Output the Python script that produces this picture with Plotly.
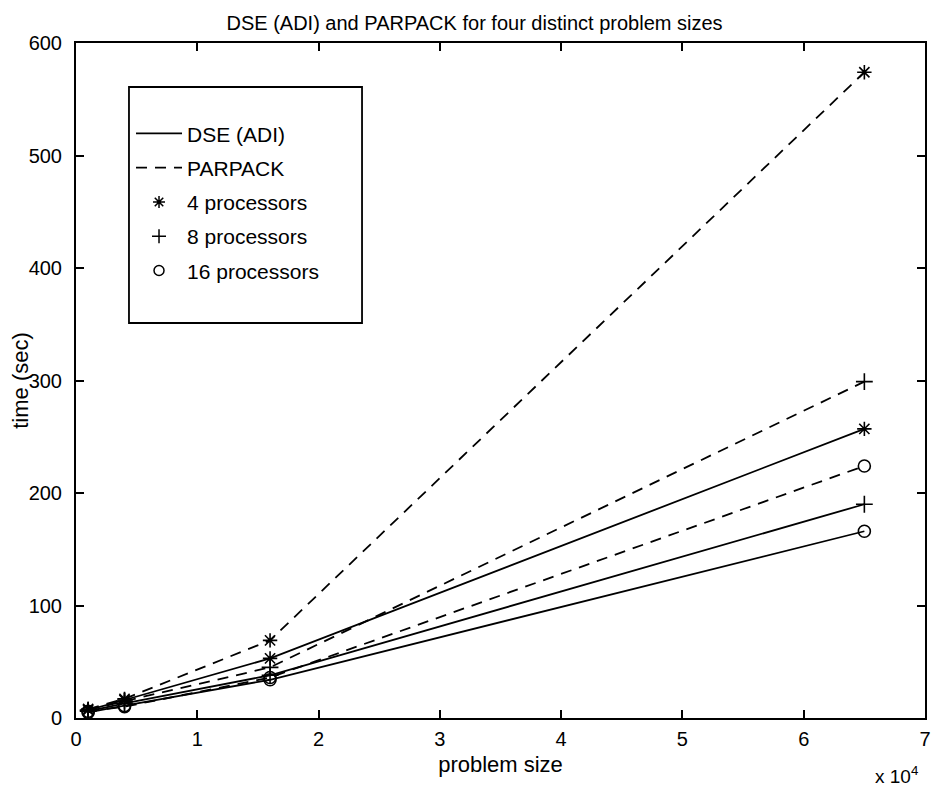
import plotly.graph_objects as go

problem_size = [1000, 4000, 16000, 65000]
dse_4 = [7, 16, 53, 257]
dse_8 = [6, 13, 38, 190]
dse_16 = [5, 11, 34, 166]
parpack_4 = [8, 17, 69, 574]
parpack_8 = [7, 15, 45, 299]
parpack_16 = [6, 10, 36, 224]

x_ticks = [0, 10000, 20000, 30000, 40000, 50000, 60000, 70000]
x_tick_labels = ["0", "1", "2", "3", "4", "5", "6", "7"]
y_ticks = [0, 100, 200, 300, 400, 500, 600]

FONT = "Liberation Sans, Arial, Helvetica, sans-serif"
DASH = "11px,8px"
MSIZE = 12
LW = 1.8

fig = go.Figure()

series = [
    (dse_4, "solid", "asterisk-open"),
    (dse_8, "solid", "cross-thin-open"),
    (dse_16, "solid", "circle-open"),
    (parpack_4, DASH, "asterisk-open"),
    (parpack_8, DASH, "cross-thin-open"),
    (parpack_16, DASH, "circle-open"),
]
for vals, dash, sym in series:
    fig.add_trace(go.Scatter(
        x=problem_size, y=vals, mode="lines+markers",
        line=dict(color="black", width=LW, dash=dash),
        marker=dict(symbol=sym, size=MSIZE, color="black",
                    line=dict(color="black", width=1.6)),
        showlegend=False, hoverinfo="skip"))

legend_items = [
    ("DSE (ADI)", "lines", "solid", "circle"),
    ("PARPACK", "lines", DASH, "circle"),
    ("4 processors", "markers", "solid", "asterisk-open"),
    ("8 processors", "markers", "solid", "cross-thin-open"),
    ("16 processors", "markers", "solid", "circle-open"),
]
for i, (name, mode, dash, sym) in enumerate(legend_items):
    fig.add_trace(go.Scatter(
        x=[None], y=[None], mode=mode, name=name, legendgroup=f"g{i}",
        line=dict(color="black", width=LW, dash=dash),
        marker=dict(symbol=sym, size=10, color="black",
                    line=dict(color="black", width=1.5))))

axis_common = dict(
    showline=True, linecolor="black", linewidth=2, mirror="ticks",
    ticks="inside", ticklen=8, tickcolor="black", tickwidth=1.8,
    showgrid=False, zeroline=False, automargin=False,
    tickfont=dict(family=FONT, size=20, color="black"),
)

fig.update_layout(
    width=933, height=783,
    margin=dict(l=68, r=16, t=35, b=73),
    paper_bgcolor="white", plot_bgcolor="white",
    font=dict(family=FONT, size=20, color="black"),
    title=dict(text="DSE (ADI) and PARPACK for four distinct problem sizes",
               x=0.5, xanchor="center", y=0.99, yanchor="top",
               pad=dict(t=0, b=0),
               font=dict(family=FONT, size=20, color="black")),
    xaxis=dict(range=[0, 70000], tickvals=x_ticks, ticktext=x_tick_labels,
               ticklabelstandoff=2,
               title=dict(text="problem size", standoff=8,
                          font=dict(family=FONT, size=22)),
               **axis_common),
    yaxis=dict(range=[0, 600], tickvals=y_ticks, ticklabelstandoff=8,
               title=dict(text="time (sec)", standoff=10,
                          font=dict(family=FONT, size=22)),
               **axis_common),
    legend=dict(x=0.0648, y=0.896, xanchor="left", yanchor="top",
                borderwidth=0, bgcolor="rgba(0,0,0,0)",
                font=dict(family=FONT, size=21, color="black"),
                itemwidth=46, tracegroupgap=4, traceorder="grouped"),
    shapes=[dict(type="rect", xref="paper", yref="paper",
                 x0=0.0624, x1=0.3369, y0=0.5852, y1=0.9348,
                 line=dict(color="black", width=1.8),
                 fillcolor="white", layer="above")],
    annotations=[dict(text="x 10<sup>4</sup>", xref="paper", yref="paper",
                      x=0.994, y=-0.085, xanchor="right", yanchor="middle",
                      showarrow=False, font=dict(family=FONT, size=19))],
)

fig.write_html("out.html")
